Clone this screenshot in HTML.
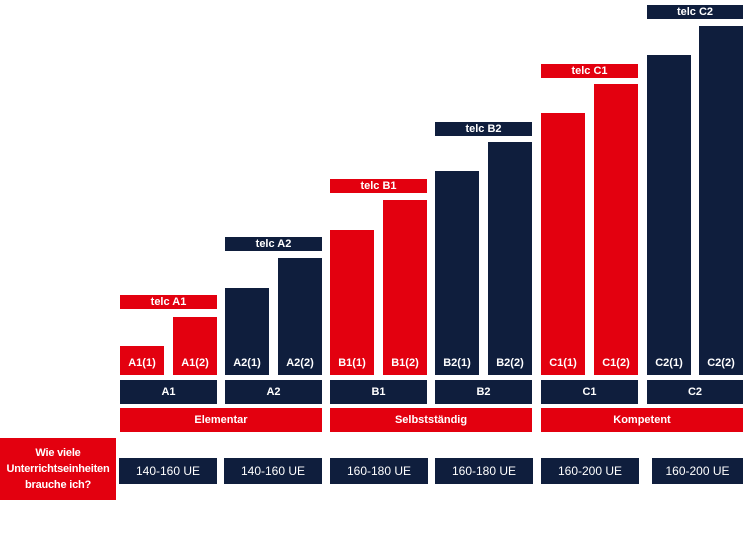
<!DOCTYPE html><html><head><style>
body{margin:0;width:746px;height:559px;background:#fff;position:relative;font-family:"Liberation Sans",sans-serif;overflow:hidden}
div.b{position:absolute;color:#fff;font-weight:bold;display:flex;align-items:center;justify-content:center;font-size:11px}
.r{background:#e3000f}.n{background:#0f1e3d}
.bar{align-items:flex-end!important;padding-bottom:6px;box-sizing:border-box}
</style></head><body>
<div class="b r" style="left:120px;top:295px;width:97px;height:14px">telc A1</div>
<div class="b r bar" style="left:120px;top:346px;width:44px;height:29px">A1(1)</div>
<div class="b r bar" style="left:173px;top:317px;width:44px;height:58px">A1(2)</div>
<div class="b n" style="left:225px;top:237px;width:97px;height:14px">telc A2</div>
<div class="b n bar" style="left:225px;top:288px;width:44px;height:87px">A2(1)</div>
<div class="b n bar" style="left:278px;top:258px;width:44px;height:117px">A2(2)</div>
<div class="b r" style="left:330px;top:179px;width:97px;height:14px">telc B1</div>
<div class="b r bar" style="left:330px;top:230px;width:44px;height:145px">B1(1)</div>
<div class="b r bar" style="left:383px;top:200px;width:44px;height:175px">B1(2)</div>
<div class="b n" style="left:435px;top:122px;width:97px;height:14px">telc B2</div>
<div class="b n bar" style="left:435px;top:171px;width:44px;height:204px">B2(1)</div>
<div class="b n bar" style="left:488px;top:142px;width:44px;height:233px">B2(2)</div>
<div class="b r" style="left:541px;top:64px;width:97px;height:14px">telc C1</div>
<div class="b r bar" style="left:541px;top:113px;width:44px;height:262px">C1(1)</div>
<div class="b r bar" style="left:594px;top:84px;width:44px;height:291px">C1(2)</div>
<div class="b n" style="left:647px;top:5px;width:96px;height:14px">telc C2</div>
<div class="b n bar" style="left:647px;top:55px;width:44px;height:320px">C2(1)</div>
<div class="b n bar" style="left:699px;top:26px;width:44px;height:349px">C2(2)</div>
<div class="b n" style="left:120px;top:380px;width:97px;height:24px">A1</div>
<div class="b n" style="left:225px;top:380px;width:97px;height:24px">A2</div>
<div class="b n" style="left:330px;top:380px;width:97px;height:24px">B1</div>
<div class="b n" style="left:435px;top:380px;width:97px;height:24px">B2</div>
<div class="b n" style="left:541px;top:380px;width:97px;height:24px">C1</div>
<div class="b n" style="left:647px;top:380px;width:96px;height:24px">C2</div>
<div class="b r" style="left:120px;top:408px;width:202px;height:24px">Elementar</div>
<div class="b r" style="left:330px;top:408px;width:202px;height:24px">Selbstständig</div>
<div class="b r" style="left:541px;top:408px;width:202px;height:24px">Kompetent</div>
<div class="b r" style="left:0;top:438px;width:116px;height:62px;font-size:11px;text-align:center;line-height:16px;letter-spacing:-0.2px">Wie viele<br>Unterrichtseinheiten<br>brauche ich?</div>
<div class="b n" style="left:119px;top:458px;width:98px;height:26px;font-size:12px;font-weight:normal">140-160 UE</div>
<div class="b n" style="left:224px;top:458px;width:98px;height:26px;font-size:12px;font-weight:normal">140-160 UE</div>
<div class="b n" style="left:330px;top:458px;width:98px;height:26px;font-size:12px;font-weight:normal">160-180 UE</div>
<div class="b n" style="left:435px;top:458px;width:98px;height:26px;font-size:12px;font-weight:normal">160-180 UE</div>
<div class="b n" style="left:541px;top:458px;width:98px;height:26px;font-size:12px;font-weight:normal">160-200 UE</div>
<div class="b n" style="left:652px;top:458px;width:91px;height:26px;font-size:12px;font-weight:normal">160-200 UE</div>
</body></html>
